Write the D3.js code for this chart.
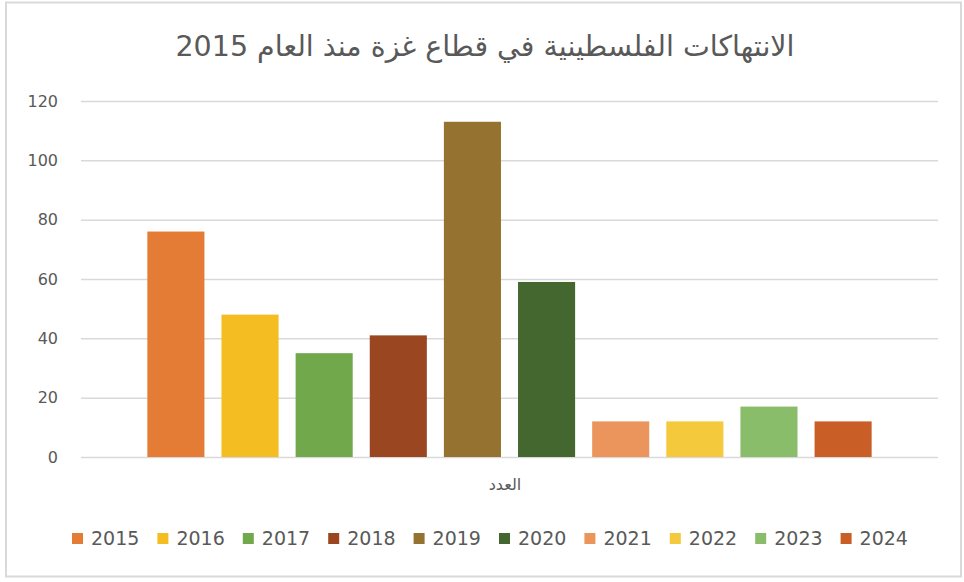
<!DOCTYPE html>
<html>
<head>
<meta charset="utf-8">
<script src="https://cdn.jsdelivr.net/npm/d3@7"></script>
<style>
  body { margin: 0; background: #fff; }
  svg { display: block; }
</style>
</head>
<body>
<div class="chart"></div>
<script>
// data
const years = ['2015', '2016', '2017', '2018', '2019', '2020', '2021', '2022', '2023', '2024'];
const values = [76, 48, 35, 41, 113, 59, 12, 12, 17, 12];
const colors = ['#E47C36', '#F4BD22', '#70A84B', '#9A4621', '#95722F', '#43672F', '#EB955C', '#F5C93C', '#8ABD69', '#C95F27'];
const yTicks = [0, 20, 40, 60, 80, 100, 120];
const categories = ['العدد'];
const title = 'الانتهاكات الفلسطينية في قطاع غزة منذ العام 2015';

const width = 964, height = 582;
const margin = {top: 101, right: 26, bottom: 125, left: 81};
const plotW = width - margin.left - margin.right;
const plotH = height - margin.top - margin.bottom;

const svg = d3.select('.chart').append('svg')
    .attr('width', width)
    .attr('height', height);

// outer frame
svg.append('rect')
    .attr('x', 6).attr('y', 2.5)
    .attr('width', 955).attr('height', 574)
    .attr('fill', '#fff')
    .attr('stroke', '#d9d9d9')
    .attr('stroke-width', 2);

// title
svg.append('text')
    .attr('x', 485)
    .attr('y', 56)
    .attr('direction', 'rtl')
    .attr('text-anchor', 'middle')
    .style('font-family', 'DejaVu Sans, sans-serif')
    .style('font-size', '28.5px')
    .style('fill', '#595959')
    .text(title);

// scales
let yScale = d3.scaleLinear()
    .domain([0, 120])
    .range([margin.top + plotH, margin.top]);

let x0 = d3.scaleBand()
    .domain(categories)
    .range([margin.left, margin.left + plotW])
    .paddingOuter(0.078);

let x1 = d3.scaleBand()
    .domain(years)
    .range([0, x0.bandwidth()])
    .paddingInner(0.23)
    .paddingOuter(0.115);

// gridlines + y labels
let yAxis = d3.axisLeft(yScale)
    .tickValues(yTicks)
    .tickSize(-plotW)
    .tickPadding(23);

let yAxisG = svg.append('g')
    .attr('transform', 'translate(' + margin.left + ',0)')
    .call(yAxis);

yAxisG.select('.domain').remove();
yAxisG.selectAll('.tick line')
    .attr('stroke', '#d9d9d9')
    .attr('stroke-width', 1.5);
yAxisG.selectAll('.tick text')
    .style('font-family', 'DejaVu Sans, sans-serif')
    .style('font-size', '16px')
    .style('fill', '#595959');

// bars
let g = svg.append('g')
    .attr('transform', 'translate(' + x0(categories[0]) + ',0)');

g.selectAll('rect')
    .data(years)
    .enter().append('rect')
    .attr('x', d => x1(d))
    .attr('y', (d, i) => yScale(values[i]))
    .attr('width', x1.bandwidth())
    .attr('height', (d, i) => yScale(0) - yScale(values[i]))
    .style('fill', (d, i) => colors[i]);

// category label
svg.append('text')
    .attr('x', 505)
    .attr('y', 490)
    .attr('direction', 'rtl')
    .attr('text-anchor', 'middle')
    .style('font-family', 'DejaVu Sans, sans-serif')
    .style('font-size', '16px')
    .style('fill', '#595959')
    .text(categories[0]);

// legend
let legendStep = 85.4;
let legend = svg.append('g')
    .attr('transform', 'translate(72,533)');

let items = legend.selectAll('g')
    .data(years)
    .enter().append('g')
    .attr('transform', (d, i) => 'translate(' + (i * legendStep) + ',0)');

items.append('rect')
    .attr('width', 11)
    .attr('height', 11)
    .style('fill', (d, i) => colors[i]);

items.append('text')
    .attr('x', 19)
    .attr('y', 12)
    .style('font-family', 'DejaVu Sans, sans-serif')
    .style('font-size', '19px')
    .style('fill', '#595959')
    .text(d => d);
</script>
</body>
</html>
